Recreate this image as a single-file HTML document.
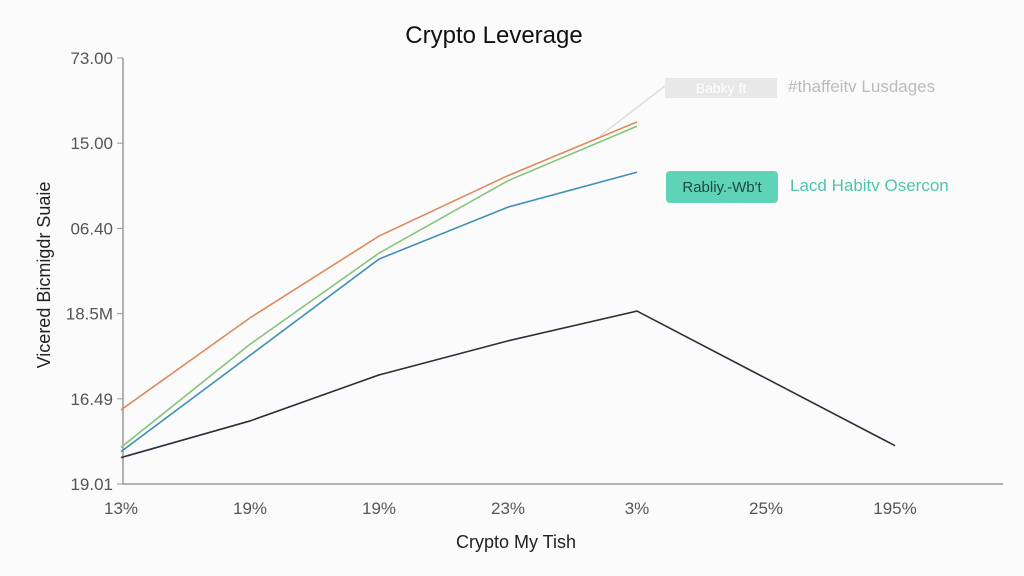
<!DOCTYPE html>
<html><head><meta charset="utf-8"><style>
body{margin:0;background:#fbfbfb;}
svg{display:block;font-family:"Liberation Sans",sans-serif;}
</style></head><body>
<svg width="1024" height="576" viewBox="0 0 1024 576">
<rect width="1024" height="576" fill="#fbfbfb"/>
<text x="494" y="43" text-anchor="middle" font-size="24" fill="#111">Crypto Leverage</text>
<text x="516" y="548" text-anchor="middle" font-size="18" fill="#222">Crypto My Tish</text>
<text transform="translate(50,275) rotate(-90)" text-anchor="middle" font-size="18" fill="#222">Vicered  Bicmigdr Suaie</text>
<line x1="123" y1="58" x2="123" y2="484" stroke="#999" stroke-width="1.5"/>
<line x1="123" y1="484" x2="1003" y2="484" stroke="#999" stroke-width="1.5"/>
<g id="yticks"></g><g id="xticks"></g>
<line x1="600" y1="136" x2="665" y2="86" stroke="#ddd" stroke-width="1.5"/>
<g id="series"></g>
<rect x="665" y="78" width="112" height="20" fill="#e8e8e8"/>
<text x="721" y="93" text-anchor="middle" font-size="14" fill="#fff">Babky ft</text>
<text x="788" y="92" font-size="17" fill="#bbb">#thaffeitv Lusdages</text>
<rect x="666" y="171" width="112" height="32" rx="4" fill="#5ed3b8"/>
<text x="722" y="192" text-anchor="middle" font-size="15" fill="#1f4a40">Rabliy.-Wb't</text>
<text x="790" y="191" font-size="17" fill="#4fc4ad">Lacd Habitv Osercon</text>
</svg>
<script>
const categories=["13%","19%","19%","23%","3%","25%","195%"];
const yTickLabels=["19.01","16.49","18.5M","06.40","15.00","73.00"];
const yTickValues=[0,1,2,3,4,5];
const orangeValues=[0.87,1.95,2.91,3.62,4.25,null,null];
const greenValues=[0.43,1.64,2.71,3.56,4.20,null,null];
const blueValues=[0.38,1.51,2.64,3.25,3.66,null,null];
const darkValues=[0.31,0.74,1.28,1.68,2.03,null,0.45];
const NS="http://www.w3.org/2000/svg";
const xScale=i=>121+i*129;
const yScale=v=>484-v*85.2;
const yt=document.getElementById('yticks');
yTickValues.forEach((v,i)=>{
 const l=document.createElementNS(NS,'line');
 l.setAttribute('x1',117);l.setAttribute('x2',123);l.setAttribute('y1',yScale(v));l.setAttribute('y2',yScale(v));
 l.setAttribute('stroke','#999');
 
 
 yt.appendChild(l);
 const t=document.createElementNS(NS,'text');
 t.setAttribute('x',113);t.setAttribute('y',yScale(v)+6);t.setAttribute('text-anchor','end');
 t.setAttribute('font-size','17');t.setAttribute('fill','#555');
 t.textContent=yTickLabels[i];
 
 
 yt.appendChild(t);
});
const xt=document.getElementById('xticks');
categories.forEach((c,i)=>{
 const t=document.createElementNS(NS,'text');
 t.setAttribute('x',xScale(i));t.setAttribute('y',514);t.setAttribute('text-anchor','middle');
 t.setAttribute('font-size','17');t.setAttribute('fill','#555');
 t.textContent=c;
 
 
 xt.appendChild(t);
});
const sg=document.getElementById('series');
function draw(vals,color,name){
 const pts=[];
 vals.forEach((v,i)=>{if(v!==null)pts.push(xScale(i)+','+yScale(v));});
 const p=document.createElementNS(NS,'polyline');
 p.setAttribute('points',pts.join(' '));
 p.setAttribute('fill','none');p.setAttribute('stroke',color);p.setAttribute('stroke-width','1.6');
 
 
 sg.appendChild(p);
}
draw(orangeValues,'#e0895a','series-orange-line');
draw(greenValues,'#86c47a','series-green-line');
draw(blueValues,'#3f8fb8','series-blue-line');
draw(darkValues,'#2a2f3a','series-dark-line');
</script>
</body></html>
